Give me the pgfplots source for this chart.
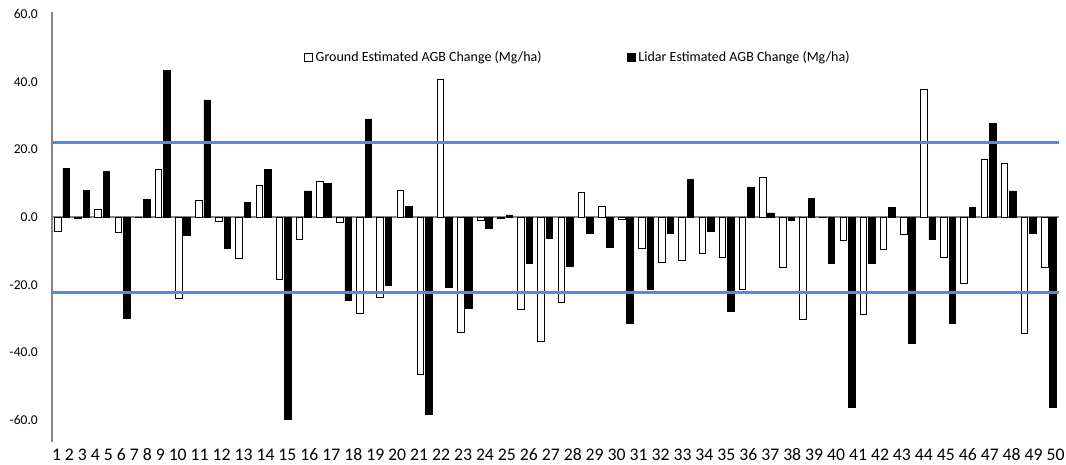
\documentclass[border=0pt]{standalone}
\usepackage{fontspec}
\setmainfont{Carlito}
\usepackage{pgfplots}
\usepackage{pgfplotstable}
\pgfplotsset{compat=1.18}

\definecolor{refblue}{RGB}{84,141,212}
\definecolor{axisgray}{RGB}{134,134,134}

% AGB change per plot (Mg/ha): field inventory vs. lidar estimate
\pgfplotstableread{
plot ground lidar
1  -4.2  14.3
2  -0.3   7.8
3   2.2  13.6
4  -4.6 -29.9
5  -0.2   5.3
6  14.2  43.3
7 -24.1  -5.4
8   4.8  34.6
9  -1.4  -9.2
10 -12.3   4.2
11   9.3  14.0
12 -18.5 -59.9
13  -6.5   7.7
14  10.4   9.9
15  -1.6 -24.7
16 -28.6  29.0
17 -23.8 -20.2
18   7.8   3.0
19 -46.6 -58.3
20  40.7 -20.9
21 -34.2 -27.1
22  -1.1  -3.3
23  -0.5   0.6
24 -27.3 -13.8
25 -36.9  -6.2
26 -25.2 -14.5
27   7.3  -4.9
28   3.2  -8.9
29  -0.6 -31.5
30  -9.2 -21.3
31 -13.4  -4.9
32 -12.8  11.1
33 -10.8  -4.2
34 -11.8 -27.8
35 -21.5   8.9
36  11.8   1.2
37 -14.8  -0.9
38 -30.3   5.6
39  -0.2 -13.8
40  -6.9 -56.2
41 -28.9 -13.8
42  -9.7   2.7
43  -5.2 -37.4
44  37.6  -6.7
45 -12.0 -31.3
46 -19.7   2.9
47  16.9  27.7
48  15.8   7.7
49 -34.5  -4.9
50 -15.0 -56.4
}\agbdata

\begin{document}
\begin{tikzpicture}
\begin{axis}[
  at={(52pt,-442pt)}, anchor=south west,
  scale only axis, width=1007pt, height=430pt,
  xmin=0.5, xmax=50.5, ymin=-66.5, ymax=60.6,
  axis x line*=bottom, axis y line*=left,
  x axis line style={draw=none},
  y axis line style={draw=axisgray, line width=1.3pt, -},
  major tick length=0pt,
  xtick style={draw=none}, ytick style={draw=none},
  % plot numbers are set as one evenly spaced run of text under the bars
  xtick={0.7229,1.3671,2.0113,2.6555,3.2997,3.9439,4.5880,5.2322,5.8764,
         6.7433,7.8331,8.9228,10.0126,11.1024,12.1922,13.2819,14.3717,15.4615,16.5512,
         17.6410,18.7308,19.8205,20.9103,22.0001,23.0898,24.1796,25.2694,26.3592,27.4489,
         28.5387,29.6285,30.7182,31.8080,32.8978,33.9875,35.0773,36.1671,37.2569,38.3466,
         39.4364,40.5262,41.6159,42.7057,43.7955,44.8852,45.9750,47.0648,48.1545,49.2443,50.3341},
  xticklabels={1,2,3,4,5,6,7,8,9,10,11,12,13,14,15,16,17,18,19,20,21,22,23,24,25,
               26,27,28,29,30,31,32,33,34,35,36,37,38,39,40,41,42,43,44,45,46,47,48,49,50},
  xticklabel style={font=\fontsize{17.7}{20}\selectfont, anchor=base, inner sep=0pt, yshift=-18pt},
  ytick={-60,-40,-20,0,20,40,60},
  yticklabels={-60.0,-40.0,-20.0,0.0,20.0,40.0,60.0},
  yticklabel style={font=\fontsize{13.5}{16}\selectfont, anchor=east, inner sep=0pt, xshift=-14pt},
  legend columns=2,
  legend cell align=left,
  legend style={draw=none, fill=none, at={(0.2502,0.8940)}, anchor=west,
    inner sep=0pt, outer sep=0pt, column sep=0pt, nodes={inner sep=0pt},
    font=\fontsize{14}{16}\selectfont,
    /tikz/every even column/.append style={column sep=85pt}},
]
% zero line
\addplot[axisgray, line width=1.2pt, mark=none, forget plot] coordinates {(0.5,0) (50.5,0)};

\addplot[ybar, bar width=6.6pt, bar shift=-4.2pt, draw=black, line width=0.8pt, fill=white,
  legend image code/.code={\draw[draw=black, line width=0.8pt, fill=white] (0pt,-4pt) rectangle (8pt,4pt); \path (11pt,0pt);}]
  table[x=plot, y=ground]{\agbdata};
\addlegendentry{Ground Estimated AGB Change (Mg/ha)}

\addplot[ybar, bar width=6.6pt, bar shift=4.2pt, draw=black, line width=0.8pt, fill=black,
  legend image code/.code={\draw[draw=black, line width=0.8pt, fill=black] (0pt,-4pt) rectangle (8pt,4pt); \path (11pt,0pt);}]
  table[x=plot, y=lidar]{\agbdata};
\addlegendentry{Lidar Estimated AGB Change (Mg/ha)}

% upper and lower bounds
\addplot[refblue, line width=2.2pt, mark=none, forget plot] coordinates {(0.5,22.0) (50.5,22.0)};
\addplot[refblue, line width=2.2pt, mark=none, forget plot] coordinates {(0.5,-22.3) (50.5,-22.3)};
\end{axis}
\pgfresetboundingbox
\path[use as bounding box] (0pt,0pt) rectangle (1066pt,-464pt);
\end{tikzpicture}
\end{document}
